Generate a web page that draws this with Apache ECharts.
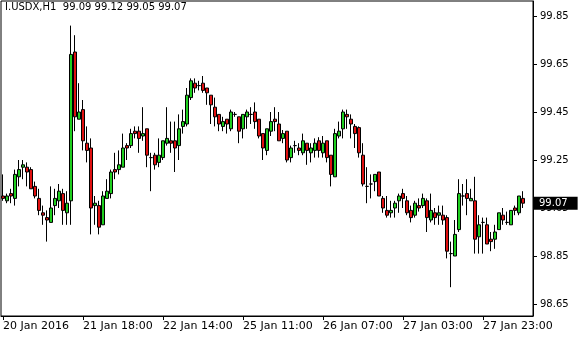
<!DOCTYPE html>
<html><head><meta charset="utf-8">
<script src="https://cdn.jsdelivr.net/npm/echarts@6/dist/echarts.min.js"></script>
<style>html,body{margin:0;padding:0;background:#fff}#c{width:580px;height:340px}</style>
</head><body><div id="c"></div>
<script>
const symbolName = 'I.USDX,H1';
const opens = [99.10,99.08,99.11,99.09,99.18,99.22,99.22,99.21,99.14,99.09,
99.03,99.01,98.99,99.06,99.08,99.11,99.03,99.08,99.70,99.42,
99.46,99.32,99.30,99.06,99.06,98.98,99.09,99.11,99.21,99.21,
99.22,99.31,99.31,99.37,99.37,99.35,99.38,99.26,99.27,99.24,
99.26,99.32,99.33,99.33,99.31,99.39,99.40,99.51,99.57,99.56,
99.57,99.55,99.52,99.47,99.44,99.39,99.42,99.38,99.44,99.43,
99.38,99.43,99.44,99.45,99.42,99.36,99.29,99.37,99.42,99.40,
99.34,99.37,99.26,99.31,99.30,99.28,99.32,99.28,99.29,99.33,
99.28,99.33,99.27,99.18,99.35,99.38,99.44,99.42,99.39,99.385,
99.27,99.14,99.15,99.16,99.20,99.09,99.04,99.03,99.05,99.08,
99.11,99.08,99.04,99.02,99.06,99.06,99.08,99.00,99.03,99.02,
99.02,99.01,98.86,98.85,98.96,99.10,99.11,99.08,99.08,98.93,
98.99,98.98,98.92,98.92,98.96,99.02,98.99,98.98,99.05,99.03,
99.09];
const highs = [99.19,99.11,99.13,99.21,99.25,99.25,99.24,99.22,99.16,99.13,
99.06,99.04,99.14,99.13,99.15,99.13,99.12,99.81,99.77,99.57,
99.50,99.39,99.34,99.10,99.08,99.12,99.17,99.21,99.28,99.29,
99.36,99.32,99.38,99.39,99.39,99.47,99.38,99.28,99.28,99.34,
99.33,99.47,99.41,99.41,99.44,99.46,99.55,99.59,99.59,99.58,
99.60,99.55,99.52,99.51,99.44,99.43,99.42,99.46,99.45,99.43,
99.44,99.46,99.47,99.49,99.42,99.36,99.38,99.45,99.47,99.45,
99.375,99.37,99.31,99.33,99.32,99.36,99.32,99.32,99.34,99.345,
99.35,99.33,99.27,99.38,99.41,99.46,99.46,99.44,99.40,99.39,
99.32,99.22,99.19,99.19,99.20,99.10,99.10,99.08,99.08,99.11,
99.13,99.10,99.06,99.08,99.09,99.11,99.09,99.11,99.05,99.06,
99.06,99.02,98.91,99.00,99.17,99.15,99.17,99.13,99.18,99.02,
99.01,99.01,98.95,98.98,99.03,99.05,99.035,99.04,99.06,99.10,
99.12];
const lows = [99.08,99.07,99.07,99.06,99.14,99.17,99.14,99.13,99.09,99.02,
98.98,98.91,98.99,99.02,99.05,98.98,98.98,98.98,99.37,99.42,
99.29,99.24,98.94,98.98,98.94,98.98,99.09,99.09,99.17,99.19,
99.22,99.25,99.30,99.34,99.28,99.33,99.22,99.12,99.21,99.22,
99.25,99.31,99.28,99.20,99.25,99.36,99.39,99.50,99.53,99.54,
99.53,99.48,99.40,99.39,99.37,99.37,99.36,99.37,99.43,99.32,
99.34,99.38,99.40,99.38,99.34,99.25,99.27,99.35,99.37,99.33,
99.32,99.24,99.24,99.28,99.27,99.27,99.23,99.24,99.26,99.26,
99.26,99.24,99.14,99.18,99.34,99.34,99.38,99.34,99.30,99.26,
99.14,99.07,99.09,99.12,99.10,99.03,99.01,99.01,99.01,99.03,
99.05,99.02,98.99,99.01,99.035,99.05,98.95,98.99,98.98,98.98,
98.98,98.84,98.72,98.85,98.95,99.06,99.02,99.08,98.86,98.86,
98.86,98.90,98.87,98.88,98.96,98.98,98.98,98.98,99.02,99.02,
99.05];
const closes = [99.09,99.10,99.10,99.19,99.21,99.23,99.20,99.13,99.10,99.04,
99.02,99.00,99.05,99.09,99.12,99.04,99.07,99.69,99.43,99.45,
99.33,99.29,99.05,99.07,98.97,99.10,99.12,99.20,99.20,99.23,
99.30,99.30,99.36,99.36,99.34,99.36,99.27,99.26,99.23,99.27,
99.33,99.34,99.32,99.30,99.38,99.41,99.52,99.58,99.55,99.56,
99.54,99.53,99.48,99.43,99.40,99.41,99.40,99.45,99.44,99.37,
99.44,99.45,99.44,99.41,99.35,99.30,99.38,99.41,99.41,99.33,
99.36,99.25,99.30,99.31,99.29,99.33,99.29,99.30,99.32,99.29,
99.32,99.26,99.19,99.36,99.37,99.45,99.43,99.40,99.36,99.28,
99.15,99.14,99.15,99.19,99.10,99.05,99.02,99.04,99.07,99.10,
99.09,99.03,99.01,99.07,99.05,99.09,99.01,99.04,99.01,99.03,
99.00,98.87,98.86,98.94,99.11,99.10,99.09,99.09,98.92,98.98,
98.99,98.90,98.91,98.95,99.03,99.00,98.99,99.04,99.04,99.10,
99.07];
const xTickLabels = ['20 Jan 2016','21 Jan 18:00','22 Jan 14:00','25 Jan 11:00','26 Jan 07:00','27 Jan 03:00','27 Jan 23:00'];
const barsPerXTick = 20;
const yTickLabels = [98.65, 98.85, 99.05, 99.25, 99.45, 99.65, 99.85];
const yMin = 98.60, yMax = 99.9125;
const emptySlots = 2;

const n = opens.length;
const categories = [];
for (let i = 0; i < n + emptySlots; i++) categories.push(String(i));
const ohlc = opens.map((o, i) => [o, closes[i], lows[i], highs[i]]);
const lastPrice = closes[n - 1];
const header = symbolName + '  ' + [opens[n-1], highs[n-1], lows[n-1], closes[n-1]].map(v => v.toFixed(2)).join(' ');

const FONT = 'DejaVu Sans';
const chart = echarts.init(document.getElementById('c'), null, {renderer: 'canvas'});
chart.setOption({
  animation: false,
  backgroundColor: '#fff',
  title: {text: header, left: 5, top: 2, padding: 0,
    textStyle: {fontFamily: FONT, fontSize: 10, fontWeight: 'normal', color: '#000'}},
  grid: {left: 1, top: 1, right: 47, bottom: 24, show: true, borderColor: '#000', borderWidth: 1, backgroundColor: '#fff'},
  xAxis: {
    type: 'category', data: categories, boundaryGap: true,
    axisLine: {show: true, lineStyle: {color: '#000', width: 1}},
    axisTick: {show: true, alignWithLabel: true, length: 4, interval: (i) => i % barsPerXTick === 0, lineStyle: {color: '#000'}},
    axisLabel: {interval: (i) => i % barsPerXTick === 0, align: 'left', margin: 5,
      formatter: (v, i) => (i % barsPerXTick === 0 && xTickLabels[i / barsPerXTick]) ? xTickLabels[i / barsPerXTick] : '',
      fontFamily: FONT, fontSize: 11, color: '#000'},
    splitLine: {show: false}
  },
  yAxis: {
    type: 'value', position: 'right', min: yMin, max: yMax, scale: true,
    axisLine: {show: true, lineStyle: {color: '#000', width: 1}},
    axisTick: {show: true, length: 4, customValues: yTickLabels, lineStyle: {color: '#000'}},
    axisLabel: {customValues: yTickLabels, formatter: (v) => v.toFixed(2), margin: 7,
      fontFamily: FONT, fontSize: 10, color: '#000'},
    splitLine: {show: false}
  },
  series: [{
    type: 'candlestick', data: ohlc, barWidth: 3,
    itemStyle: {color: '#1fcf1f', color0: '#e01010', borderColor: '#000', borderColor0: '#000', borderColorDoji: '#000', borderWidth: 1},
    markLine: {
      silent: true, symbol: 'none', animation: false,
      lineStyle: {color: 'rgba(0,0,0,0)', width: 0},
      label: {show: true, position: 'end', distance: 1, formatter: lastPrice.toFixed(2),
        backgroundColor: '#000', color: '#fff', fontFamily: FONT, fontSize: 10, padding: [2, 10, 1, 5]},
      data: [{yAxis: lastPrice}]
    }
  }]
});
</script></body></html>
